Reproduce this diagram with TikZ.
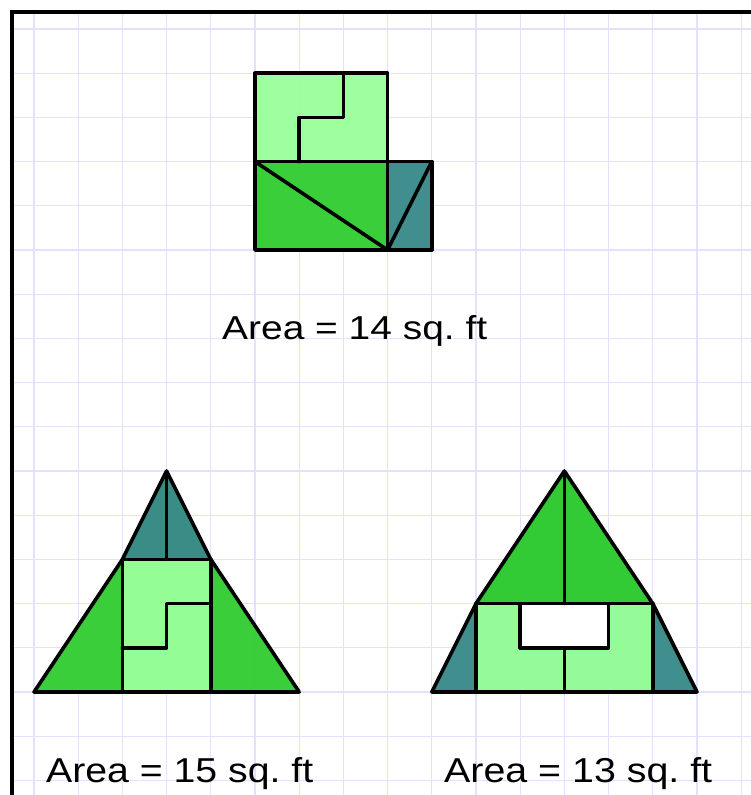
\documentclass[tikz,border=0pt]{standalone}
\usepackage{fontspec}
\setmainfont{Liberation Sans}
\definecolor{lg}{RGB}{153,255,153}
\definecolor{dg}{RGB}{50,205,50}
\definecolor{tl}{RGB}{58,138,138}
\definecolor{gridc}{RGB}{226,226,255}
\begin{document}
\begin{tikzpicture}[x=1pt,y=-1pt,
  gridline/.style={gridc, line width=1.3pt},
  edge/.style={draw=black, line width=3.6pt, line join=round, line cap=round},
  piece/.style={fill opacity=0.96},
  label/.style={anchor=base west, inner sep=0pt}]
\useasboundingbox (0,0) rectangle (751,795);
\fill[white] (0,0) rectangle (751,795);
% grid
\foreach \i in {0,...,16} \draw[gridline] ({34+44.2*\i},12) -- ({34+44.2*\i},795);
\foreach \j in {0,...,17} \draw[gridline] (12,{29+44.2*\j}) -- (751,{29+44.2*\j});
% frame
\draw[line width=3.5pt] (12,795) -- (12,12) -- (751,12);
\begin{scope}[shift={(34,29)}, x=44.2pt, y=-44.2pt]
  % ---------- top figure ----------
  \fill[lg, piece] (5,1) rectangle (8,3);
  \fill[dg, piece] (5,3) rectangle (8,5);
  \fill[tl, piece] (8,3) rectangle (9,5);
  \draw[edge] (5,1) rectangle (8,3);
  \draw[edge] (7,1) -- (7,2) -- (6,2) -- (6,3);
  \draw[edge] (5,3) rectangle (8,5);
  \draw[edge] (5,3) -- (8,5);
  \draw[edge] (8,3) rectangle (9,5);
  \draw[edge] (8,5) -- (9,3);
  % ---------- bottom left ----------
  \fill[dg, piece] (0,15) -- (2,12) -- (3,10) -- (4,12) -- (6,15) -- cycle;
  \fill[tl, piece] (2,12) -- (3,10) -- (4,12) -- cycle;
  \fill[lg, piece] (2,12) rectangle (4,15);
  \draw[edge] (0,15) -- (2,12) -- (3,10) -- (4,12) -- (6,15) -- cycle;
  \draw[edge] (2,12) -- (4,12);
  \draw[edge] (3,10) -- (3,12);
  \draw[edge] (2,12) rectangle (4,15);
  \draw[edge] (4,13) -- (3,13) -- (3,14) -- (2,14);
  % ---------- bottom right ----------
  \fill[tl, piece] (9,15) -- (10,13) -- (12,10) -- (14,13) -- (15,15) -- cycle;
  \fill[dg, piece] (10,13) -- (12,10) -- (14,13) -- cycle;
  \fill[lg, piece] (10,13) rectangle (14,15);
  \fill[white] (11,13) rectangle (13,14);
  \draw[edge] (9,15) -- (10,13) -- (12,10) -- (14,13) -- (15,15) -- cycle;
  \draw[edge] (10,13) -- (14,13);
  \draw[edge] (12,10) -- (12,13);
  \draw[edge] (10,13) -- (10,15);
  \draw[edge] (14,13) -- (14,15);
  \draw[edge] (11,13) rectangle (13,14);
  \draw[edge] (12,14) -- (12,15);
\end{scope}
% labels
\node[label] (a14) at (222,339) {\resizebox{265pt}{24pt}{Area = 14 sq.\ ft}};
\node[label] (a15) at (46,782) {\resizebox{267pt}{25pt}{Area = 15 sq.\ ft}};
\node[label] (a13) at (444,782) {\resizebox{268pt}{25pt}{Area = 13 sq.\ ft}};
\end{tikzpicture}
\end{document}
